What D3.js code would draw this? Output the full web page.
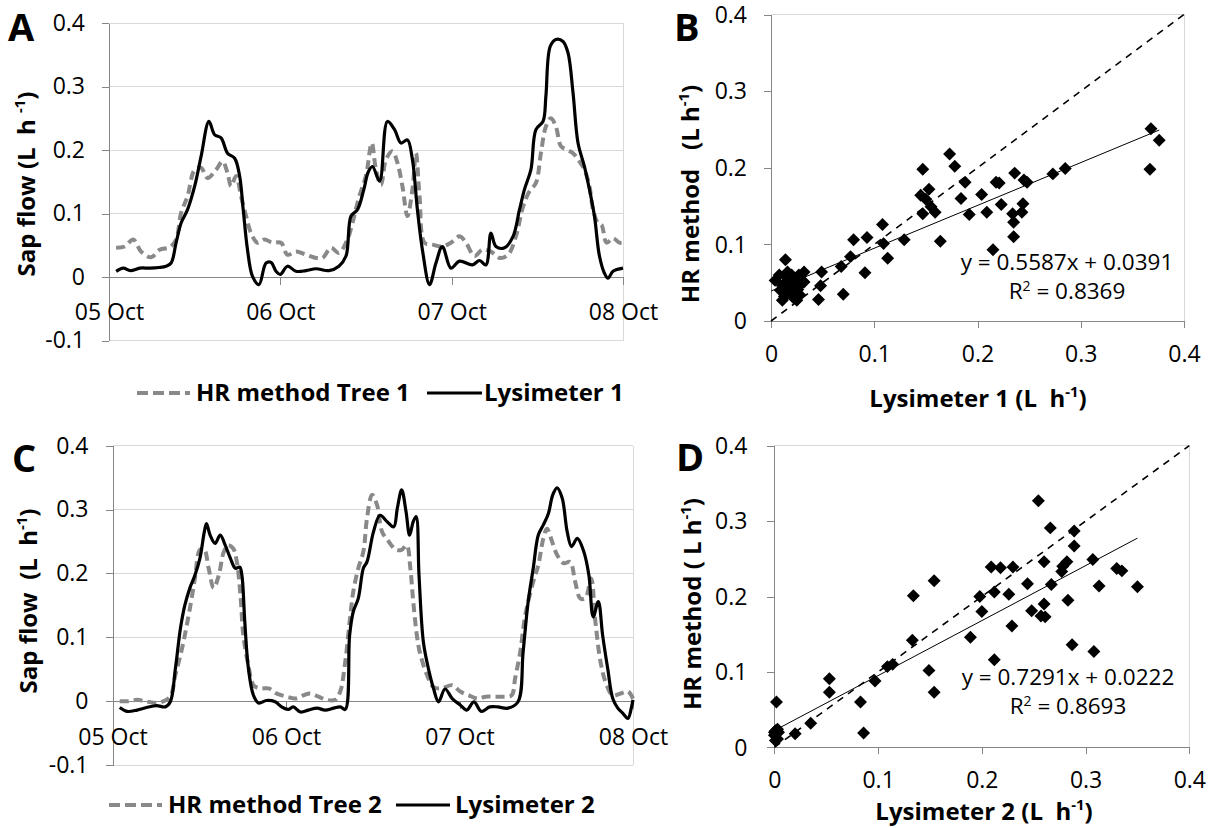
<!DOCTYPE html>
<html>
<head>
<meta charset="utf-8">
<script src="https://cdn.jsdelivr.net/npm/d3@7"></script>
<style>
  body { margin: 0; background: #fff; }
  svg { display: block; }
</style>
</head>
<body>
<svg id="fig" width="1217" height="828"></svg>
<script>
// ---------- data ----------
const dayLabels = ["05 Oct", "06 Oct", "07 Oct", "08 Oct"];
const dayTicks = [0, 24, 48, 72];            // hours since 05 Oct 00:00
const flowTicks = [-0.1, 0, 0.1, 0.2, 0.3, 0.4];
const scatterTicks = [0, 0.1, 0.2, 0.3, 0.4];

// [hours since 05 Oct 00:00, sap flow L/h]
const hrTree1 = [[1,0.046],[2.2,0.048],[3.4,0.059],[4.5,0.040],[5.9,0.031],[7.1,0.043],[8.5,0.047],[9.4,0.059],[10.1,0.101],[11,0.127],[12,0.169],[12.9,0.172],[13.8,0.156],[15,0.169],[15.9,0.182],[16.6,0.164],[17.1,0.143],[17.8,0.159],[18.5,0.127],[19.2,0.096],[19.9,0.069],[20.8,0.054],[21.8,0.059],[22.9,0.054],[24.1,0.054],[25,0.035],[26.2,0.040],[27.6,0.035],[29,0.030],[29.9,0.030],[31.1,0.046],[32.2,0.038],[33.4,0.059],[34.1,0.085],[35,0.125],[36,0.160],[36.8,0.211],[37.4,0.169],[38.1,0.145],[38.8,0.185],[39.7,0.198],[40.4,0.180],[41.1,0.143],[41.8,0.096],[42.5,0.138],[43,0.195],[43.5,0.127],[44.2,0.054],[45.3,0.051],[46.7,0.048],[47.9,0.054],[49.1,0.064],[50,0.054],[51.2,0.033],[52.3,0.043],[53.5,0.040],[54.7,0.030],[55.9,0.035],[57,0.064],[58,0.111],[58.9,0.135],[59.8,0.148],[60.5,0.195],[61.2,0.237],[61.9,0.250],[62.6,0.237],[63.3,0.206],[64,0.201],[65,0.195],[65.9,0.182],[66.6,0.169],[67.3,0.143],[67.8,0.106],[68.5,0.085],[69,0.082],[69.7,0.054],[70.6,0.061],[71.5,0.054],[72,0.054]];
const lysimeter1 = [[1,0.009],[2,0.014],[3,0.010],[4.3,0.014],[5.7,0.014],[7,0.015],[8,0.017],[8.7,0.022],[9.4,0.054],[10.1,0.085],[11,0.106],[12,0.143],[12.9,0.190],[14,0.245],[14.8,0.224],[15.7,0.219],[16.6,0.195],[17.6,0.187],[18.3,0.159],[18.8,0.106],[19.4,0.043],[20.1,0.001],[21,-0.012],[22,0.022],[22.7,0.023],[23.4,0.009],[24,0.004],[25,0.017],[26.2,0.009],[27.6,0.010],[29,0.013],[30.8,0.010],[32.2,0.017],[33.2,0.033],[33.9,0.096],[34.8,0.106],[35.7,0.138],[36.3,0.165],[36.9,0.174],[37.9,0.151],[39,0.245],[40,0.232],[40.9,0.211],[41.8,0.216],[42.5,0.185],[43.2,0.106],[43.9,0.043],[44.9,-0.012],[45.8,0.022],[46.7,0.048],[47.9,0.014],[49.1,0.025],[50.9,0.019],[51.9,0.026],[52.8,0.019],[53.5,0.069],[54.2,0.048],[55.4,0.046],[56.6,0.064],[57.5,0.106],[58.2,0.138],[59.1,0.169],[59.8,0.232],[60.8,0.245],[61.2,0.285],[61.8,0.363],[62.6,0.374],[63.6,0.371],[64.3,0.353],[65,0.290],[65.7,0.211],[66.6,0.174],[67.3,0.138],[68,0.096],[68.7,0.033],[69.4,0.006],[69.9,-0.002],[70.6,0.009],[72,0.014]];
const hrTree2 = [[1,0],[2.2,0],[3.4,0.002],[4.5,0],[6.1,-0.003],[7.1,0],[8,0.007],[8.7,0.041],[9.4,0.072],[10,0.103],[10.7,0.145],[11.4,0.192],[12.1,0.237],[12.7,0.237],[13.3,0.208],[14,0.177],[14.7,0.197],[15.4,0.234],[16,0.244],[16.7,0.239],[17.2,0.218],[17.7,0.166],[18.1,0.103],[18.8,0.056],[19.5,0.025],[20.4,0.020],[21.6,0.020],[22.7,0.012],[24.1,0.007],[25.3,0.004],[26.4,0.009],[27.3,0.012],[28.5,0.007],[29.6,0.002],[30.8,0.002],[31.5,0.015],[32.2,0.062],[32.8,0.124],[33.3,0.171],[34,0.208],[34.7,0.234],[35.2,0.286],[35.9,0.323],[36.6,0.307],[37.3,0.265],[38.2,0.250],[39.2,0.237],[40,0.237],[40.7,0.244],[41.2,0.208],[41.6,0.156],[42.1,0.103],[42.5,0.077],[43.5,0.041],[44.4,0.022],[45.5,0.020],[47,0.025],[48.1,0.015],[49.3,0.009],[50.5,0.004],[51.6,0.007],[52.7,0.007],[54.1,0.007],[55.2,0.009],[55.7,0.036],[56.4,0.077],[57.1,0.135],[58.2,0.187],[58.9,0.213],[59.6,0.255],[60.1,0.270],[60.8,0.250],[61.5,0.229],[62.4,0.216],[63.3,0.218],[64,0.187],[64.7,0.161],[65.4,0.161],[66.2,0.192],[66.8,0.124],[67.5,0.062],[68.2,0.030],[69.2,0.009],[70.3,0.012],[71.3,0.015],[72,0.004]];
const lysimeter2 = [[1,-0.010],[2,-0.016],[3.4,-0.014],[4.7,-0.010],[6.1,-0.007],[7.3,-0.009],[8,-0.001],[8.7,0.051],[9.4,0.114],[10,0.150],[10.7,0.177],[11.4,0.197],[12.1,0.224],[12.7,0.265],[13,0.278],[13.5,0.260],[14.2,0.247],[14.9,0.260],[15.6,0.244],[16.3,0.224],[17,0.208],[17.6,0.210],[17.9,0.197],[18.3,0.124],[18.8,0.051],[19.5,0.009],[20.2,-0.003],[21.3,0.001],[22.5,-0.001],[23.4,-0.009],[24.3,-0.013],[25,-0.009],[26,-0.017],[27.1,-0.014],[28.3,-0.011],[29.4,-0.014],[30.6,-0.011],[31.5,-0.009],[32.2,-0.013],[32.8,0.103],[33.3,0.140],[34,0.161],[34.7,0.208],[35.2,0.218],[36.1,0.265],[37,0.291],[38,0.281],[38.9,0.273],[39.4,0.302],[40,0.331],[40.6,0.297],[41.1,0.260],[41.6,0.281],[42,0.289],[42.4,0.197],[43,0.093],[43.7,0.051],[44.4,0.020],[45.1,-0.001],[46,0.019],[47,0.004],[48.1,-0.006],[49,-0.014],[50,-0.001],[51,-0.016],[52.2,-0.009],[53.3,-0.009],[54.7,-0.011],[56.1,-0.001],[56.8,0.077],[57.5,0.156],[58.2,0.208],[58.9,0.260],[59.6,0.276],[60.3,0.294],[60.9,0.323],[61.5,0.334],[62.2,0.318],[62.9,0.265],[63.5,0.242],[64.3,0.255],[65.2,0.234],[65.9,0.197],[66.5,0.132],[67.2,0.156],[67.8,0.103],[68.5,0.051],[69.2,0.004],[69.9,-0.011],[70.6,-0.019],[71.3,-0.027],[71.8,-0.009],[72,0.002]];

// paired observations: lysimeter (x) vs HR method (y), L/h
const lys1Obs = [0.368,0.376,0.367,0.285,0.273,0.236,0.245,0.248,0.244,0.243,0.234,0.235,0.235,0.218,0.221,0.223,0.209,0.204,0.215,0.188,0.184,0.192,0.173,0.178,0.147,0.145,0.153,0.150,0.155,0.147,0.159,0.164,0.129,0.108,0.109,0.113,0.093,0.080,0.077,0.091,0.068,0.070,0.049,0.048,0.046,0.032,
  0.004,0.008,0.009,0.011,0.013,0.014,0.016,0.016,0.018,0.020,0.020,0.013,0.023,0.023,0.025,0.027,0.028,0.028,0.032,0.018,0.011,0.022,0.015,0.026];
const hr1Obs  = [0.251,0.236,0.198,0.199,0.192,0.193,0.184,0.181,0.153,0.142,0.140,0.129,0.110,0.181,0.180,0.152,0.142,0.165,0.093,0.181,0.160,0.139,0.218,0.202,0.198,0.164,0.172,0.159,0.149,0.140,0.142,0.104,0.106,0.126,0.101,0.082,0.109,0.106,0.084,0.063,0.071,0.035,0.064,0.046,0.028,0.064,
  0.053,0.060,0.040,0.027,0.049,0.080,0.064,0.036,0.045,0.060,0.043,0.032,0.053,0.036,0.027,0.060,0.047,0.034,0.051,0.055,0.046,0.030,0.058,0.041];
const lys2Obs = [0.2545,0.266,0.289,0.289,0.282,0.278,0.277,0.260,0.307,0.330,0.335,0.350,0.313,0.267,0.283,0.260,0.257,0.261,0.248,0.244,0.230,0.218,0.209,0.212,0.226,0.229,0.198,0.200,0.189,0.212,0.287,0.308,0.154,0.134,0.133,0.149,0.154,0.114,0.109,0.097,0.083,0.086,0.053,0.053,0.035,0.020,0.002,0.001,0.003,0.000,0.001,0.003,0.000,0.004];
const hr2Obs  = [0.327,0.291,0.287,0.267,0.246,0.240,0.233,0.246,0.249,0.237,0.234,0.213,0.214,0.216,0.195,0.190,0.174,0.173,0.181,0.217,0.239,0.238,0.239,0.206,0.203,0.161,0.200,0.180,0.146,0.116,0.136,0.127,0.221,0.201,0.142,0.102,0.073,0.110,0.107,0.088,0.060,0.019,0.091,0.073,0.032,0.018,0.060,0.022,0.024,0.016,0.009,0.011,0.020,0.020];

// linear fits
const fitSlopes = [0.5587, 0.7291];
const fitIntercepts = [0.0391, 0.0222];
const fitR2 = [0.8369, 0.8693];

// ---------- drawing ----------
const FONT = '"Open Sans", sans-serif';
const AXIS = "#868686", GRID = "#d9d9d9", HR_GREY = "#898989";
const svg = d3.select("#fig").attr("font-family", FONT);
// plain hyphen for negative values, "0" without decimals
const tickFmt = d => d === 0 ? "0" : d3.format(".1f")(d).replace("\u2212", "-");

function styleAxis(g) {
  g.attr("font-family", FONT).attr("font-size", 23);
  g.select(".domain").attr("stroke", AXIS);
  g.selectAll(".tick line").attr("stroke", AXIS);
  g.selectAll(".tick text").attr("fill", "#000");
}

function title(x, y, rotate, parts, size) {
  const t = svg.append("text")
    .attr("transform", `translate(${x},${y})` + (rotate ? " rotate(-90)" : ""))
    .attr("text-anchor", "middle").attr("font-weight", "bold")
    .attr("font-size", size).style("white-space", "pre").attr("fill", "#000");
  t.append("tspan").text(parts[0]);
  t.append("tspan").attr("font-size", size * 0.62).attr("dy", -size * 0.4).text(parts[1]);
  t.append("tspan").attr("dy", size * 0.4).text(parts[2]);
}

function panelLetter(x, y, s) {
  svg.append("text").attr("x", x).attr("y", y).attr("font-weight", "bold")
    .attr("font-size", 38).attr("fill", "#000").text(s);
}

function timePanel(o) {
  const g = svg.append("g");
  const x = d3.scaleLinear().domain([0, 72]).range([o.x0, o.x1]);
  const y = d3.scaleLinear().domain([-0.1, 0.4]).range([o.yb, o.yt]);

  // horizontal gridlines and right border
  g.append("g").attr("shape-rendering", "crispEdges")
    .selectAll("line").data(flowTicks.filter(t => t !== 0)).join("line")
    .attr("x1", o.x0).attr("x2", o.x1).attr("y1", d => y(d)).attr("y2", d => y(d))
    .attr("stroke", GRID);
  g.append("line").attr("shape-rendering", "crispEdges")
    .attr("x1", o.x1).attr("x2", o.x1).attr("y1", o.yt).attr("y2", o.yb).attr("stroke", GRID);

  const ya = g.append("g").attr("transform", `translate(${o.x0},0)`).attr("shape-rendering", "crispEdges")
    .call(d3.axisLeft(y).tickValues(flowTicks).tickFormat(tickFmt).tickSize(7).tickPadding(17).tickSizeOuter(0));
  styleAxis(ya);

  const xa = g.append("g").attr("transform", `translate(0,${y(0)})`).attr("shape-rendering", "crispEdges")
    .call(d3.axisBottom(x).tickValues(dayTicks).tickFormat((d, i) => dayLabels[i]).tickSize(8).tickSizeOuter(0));
  styleAxis(xa);
  xa.selectAll(".tick text").attr("y", o.labelDy).attr("dy", null);

  const line = d3.line().x(d => x(d[0])).y(d => y(d[1])).curve(d3.curveCatmullRom.alpha(0.5));
  g.append("path").datum(o.hr).attr("d", line).attr("fill", "none")
    .attr("stroke", HR_GREY).attr("stroke-width", 4).attr("stroke-dasharray", "9,5");
  g.append("path").datum(o.lys).attr("d", line).attr("fill", "none")
    .attr("stroke", "#000").attr("stroke-width", 3.2).attr("stroke-linejoin", "round");

  // legend
  const L = o.legend;
  g.append("line").attr("x1", L.d0).attr("x2", L.d1).attr("y1", L.y).attr("y2", L.y)
    .attr("stroke", HR_GREY).attr("stroke-width", 4).attr("stroke-dasharray", "11,5");
  g.append("text").attr("x", L.t0).attr("y", L.y + 8).attr("font-weight", "bold").attr("font-size", 24)
    .text(o.hrName);
  g.append("line").attr("x1", L.s0).attr("x2", L.s1).attr("y1", L.y).attr("y2", L.y)
    .attr("stroke", "#000").attr("stroke-width", 3.2);
  g.append("text").attr("x", L.t1).attr("y", L.y + 8).attr("font-weight", "bold").attr("font-size", 24)
    .text(o.lysName);
}

function scatterPanel(o) {
  const g = svg.append("g");
  const x = d3.scaleLinear().domain([0, 0.4]).range([o.x0, o.x1]);
  const y = d3.scaleLinear().domain([0, 0.4]).range([o.yb, o.yt]);

  // top and right border
  g.append("path").attr("shape-rendering", "crispEdges")
    .attr("d", `M${o.x0},${o.yt}H${o.x1}V${o.yb}`).attr("fill", "none").attr("stroke", GRID);

  const ya = g.append("g").attr("transform", `translate(${o.x0},0)`).attr("shape-rendering", "crispEdges")
    .call(d3.axisLeft(y).tickValues(scatterTicks).tickFormat(tickFmt).tickSize(7).tickPadding(o.yPad).tickSizeOuter(0));
  styleAxis(ya);
  ya.selectAll(".tick text").attr("dy", "0.34em");
  const xa = g.append("g").attr("transform", `translate(0,${o.yb})`).attr("shape-rendering", "crispEdges")
    .call(d3.axisBottom(x).tickValues(scatterTicks).tickFormat(tickFmt).tickSize(7).tickSizeOuter(0));
  styleAxis(xa);
  xa.selectAll(".tick text").attr("y", 41).attr("dy", null);

  // 1:1 line
  g.append("line").attr("x1", x(0)).attr("y1", y(0)).attr("x2", x(0.4)).attr("y2", y(0.4))
    .attr("stroke", "#000").attr("stroke-width", 1.6).attr("stroke-dasharray", "7,6");

  const pts = o.xs.map((v, i) => [v, o.ys[i]]);
  g.selectAll("path.pt").data(pts).join("path").attr("class", "pt")
    .attr("d", d3.symbol(d3.symbolSquare, 84)())
    .attr("transform", d => `translate(${x(d[0])},${y(d[1])}) rotate(45)`)
    .attr("fill", "#000");

  // fitted line over the observed range
  const xmax = d3.max(o.xs);
  g.append("line").attr("x1", x(0)).attr("y1", y(o.b)).attr("x2", x(xmax)).attr("y2", y(o.a * xmax + o.b))
    .attr("stroke", "#000").attr("stroke-width", 1);

  const f = d3.format(".4f");
  g.append("text").attr("x", o.ex).attr("y", o.ey).attr("text-anchor", "middle").attr("font-size", 22.5)
    .text(`y = ${f(o.a)}x + ${f(o.b)}`);
  const r = g.append("text").attr("x", o.ex).attr("y", o.ey + 29).attr("text-anchor", "middle").attr("font-size", 22.5);
  r.append("tspan").text("R");
  r.append("tspan").attr("font-size", 14).attr("dy", -8).text("2");
  r.append("tspan").attr("dy", 8).text(` = ${f(o.r2)}`);
}

// Panel A
timePanel({
  x0: 109, x1: 623, yt: 23, yb: 340.5, labelDy: 43,
  hr: hrTree1, lys: lysimeter1, hrName: "HR method Tree 1", lysName: "Lysimeter 1",
  legend: { y: 393, d0: 137, d1: 190, t0: 196, s0: 427, s1: 482, t1: 484 }
});
panelLetter(8, 41, "A");
title(35, 184, true, ["Sap flow (L  h ", "-1", ")"], 24);

// Panel C
timePanel({
  x0: 112.5, x1: 633, yt: 445.7, yb: 765, labelDy: 44,
  hr: hrTree2, lys: lysimeter2, hrName: "HR method Tree 2", lysName: "Lysimeter 2",
  legend: { y: 805, d0: 109, d1: 162, t0: 168, s0: 396, s1: 450, t1: 455 }
});
panelLetter(12, 472, "C");
title(37, 601, true, ["Sap flow  (L  h", "-1", ")"], 24);

// Panel B
scatterPanel({
  x0: 771, x1: 1184, yt: 14.5, yb: 321, yPad: 17,
  xs: lys1Obs, ys: hr1Obs, a: fitSlopes[0], b: fitIntercepts[0], r2: fitR2[0],
  ex: 1067, ey: 270
});
panelLetter(674, 41, "B");
title(699, 194, true, ["HR method   (L h", "-1", ")"], 24);
title(978, 407, false, ["Lysimeter 1 (L  h", "-1", ")"], 24);

// Panel D
scatterPanel({
  x0: 774.4, x1: 1189.3, yt: 445.7, yb: 747.3, yPad: 20,
  xs: lys2Obs, ys: hr2Obs, a: fitSlopes[1], b: fitIntercepts[1], r2: fitR2[1],
  ex: 1068, ey: 685
});
panelLetter(676, 471, "D");
title(701, 604, true, ["HR method ( L h", "-1", ")"], 24);
title(984, 820, false, ["Lysimeter 2 (L  h", "-1", ")"], 24);
</script>
</body>
</html>
